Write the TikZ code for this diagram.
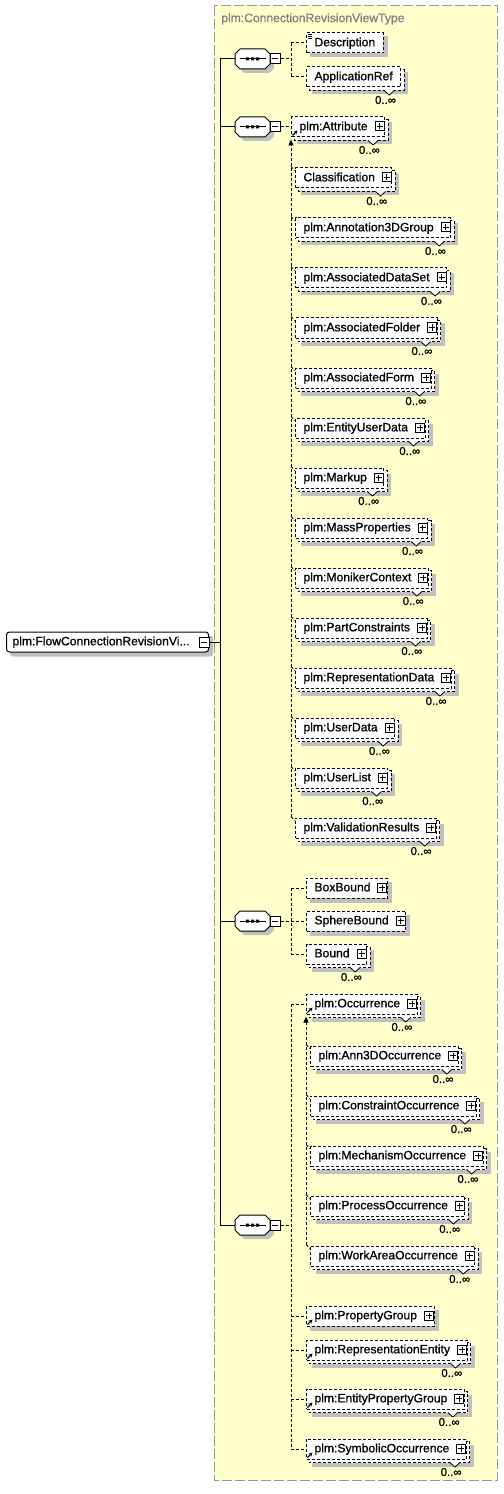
\documentclass[tikz,border=0pt]{standalone}
\usepackage{fontspec}
\setmainfont{Liberation Sans}[FakeBold=1]
\usetikzlibrary{calc,arrows.meta}
\pgfdeclarelayer{bg}
\pgfdeclarelayer{mid}
\pgfsetlayers{bg,mid,main}
\definecolor{ybg}{RGB}{255,255,204}
\definecolor{ybd}{RGB}{150,150,150}
\definecolor{shc}{RGB}{192,192,192}
\definecolor{ttl}{RGB}{128,128,128}
\tikzset{
  dsh/.style={dash pattern=on 2.25pt off 1.5pt},
  conn/.style={line width=0.75pt, dsh},
  solidln/.style={line width=0.75pt},
  lbl/.style={font=\fontsize{9.1}{11}\selectfont},
  ebox/.style={draw, line width=0.75pt, dsh, fill=white, inner sep=0pt, minimum height=15pt, text height=7pt, text depth=2pt, lbl},
  rootbox/.style={draw, line width=0.75pt, fill=white, rounded corners=2.25pt, inner sep=0pt, minimum height=15pt, text height=7pt, text depth=2pt, lbl},
  mult/.style={inner sep=0pt, font=\fontsize{8.6}{10}\selectfont},
  sqbox/.style={draw, line width=0.75pt, fill=white, inner sep=0pt, minimum size=6.75pt},
  seqbox/.style={inner sep=0pt, minimum width=26.25pt, minimum height=15pt},
  subarrow/.style={conn, -{Triangle[length=4.5pt,width=3.75pt]}},
  refarrow/.style={line width=1pt, -{Stealth[length=3pt,width=3pt]}}
}
% #1 name, #2 left x, #3 centre y, #4 text, #5 multi, #6 ref, #7 plus
\newcommand{\elbox}[7]{%
  \ifnum#7=1 \def\rpad{12.75pt}\else\def\rpad{6pt}\fi
  \node[ebox, anchor=west] (#1) at (#2,#3) {\hspace*{6pt}#4\hspace*{\rpad}};
  \begin{pgfonlayer}{bg}
  \ifnum#5=1
    \fill[shc] ($(#1.north west)+(6,6)$) rectangle ($(#1.south east)+(7,7)$);
  \else
    \fill[shc] ($(#1.north west)+(4,4)$) rectangle ($(#1.south east)+(4,4)$);
  \fi
  \end{pgfonlayer}
  \ifnum#5=1
    \begin{pgfonlayer}{mid}
    \draw[line width=0.75pt, dsh, fill=white] ($(#1.north west)+(3,3)$) rectangle ($(#1.south east)+(3,3)$);
    \coordinate (#1n) at ($(#1.south east)+(-12,3)$);
    \fill[white] ($(#1n)+(-5,-0.6)$) -- ($(#1n)+(0,4.5)$) -- ($(#1n)+(5,-0.6)$) -- cycle;
    \draw[line width=0.6pt] ($(#1n)+(-5,0)$) -- ($(#1n)+(0,4.5)$) -- ($(#1n)+(5,0)$);
    \end{pgfonlayer}
    \node[mult, anchor=east] (#1lab) at ($(#1.east)+(-5,23)$) {0..∞};
  \fi
  \ifnum#7=1
    \node[sqbox] (#1p) at ($(#1.east)+(-5.5,-0.5)$) {};
    \draw[solidln] ($(#1p.center)+(-3,0)$) -- ($(#1p.center)+(3,0)$)
                   ($(#1p.center)+(0,-3)$) -- ($(#1p.center)+(0,3)$);
  \fi
  \ifnum#6=1
    \draw[refarrow] ($(#1.west)+(1.5,8.5)$) -- ($(#1.west)+(6.5,3.5)$);
  \fi
}
% sequence compositor: #1 name, #2 centre y
\newcommand{\seqnode}[2]{%
  \node[seqbox] (#1) at (252.5,#2) {};
  \begin{pgfonlayer}{bg}
  \fill[shc, shift={(256.5,#2+4)}] (-17.5,-5) -- (-12.5,-10) -- (12.5,-10) -- (17.5,-5) -- (17.5,5) -- (12.5,10) -- (-12.5,10) -- (-17.5,5) -- cycle;
  \end{pgfonlayer}
  \draw[solidln, fill=white, shift={(252.5,#2)}] (-17.5,-5) -- (-12.5,-10) -- (12.5,-10) -- (17.5,-5) -- (17.5,5) -- (12.5,10) -- (-12.5,10) -- (-17.5,5) -- cycle;
  \draw[solidln, shift={(252.5,#2)}] (-13,0) -- (13,0);
  \fill[shift={(252.5,#2)}] (-6.5,-1.5) rectangle (-3.5,1.5) (-1.5,-1.5) rectangle (1.5,1.5) (3.5,-1.5) rectangle (6.5,1.5);
  \node[sqbox, minimum size=7.5pt] (#1m) at (275,#2) {};
  \draw[solidln] ($(#1m.center)+(-3,0)$) -- ($(#1m.center)+(3,0)$);
}
\begin{document}
\begin{tikzpicture}[x=0.75pt,y=-0.75pt]
\useasboundingbox (0,0) rectangle (503,1494);
\begin{pgfonlayer}{bg}
\fill[ybg] (214,6) rectangle (497,1480);
\draw[ybd, line width=0.75pt, dash pattern=on 7.5pt off 2.25pt] (214,6) rectangle (497,1480);
\end{pgfonlayer}
\node[anchor=west, text=ttl, lbl, inner sep=0pt] (title) at (221,19) {plm:ConnectionRevisionViewType};

% root element
\node[rootbox, anchor=west] (root) at (6,642) {\hspace*{4.5pt}plm:FlowConnectionRevisionVi...\hspace*{14.25pt}};
\begin{pgfonlayer}{bg}
\fill[shc, rounded corners=2.25pt] ($(root.north west)+(4,4)$) rectangle ($(root.south east)+(4,4)$);
\end{pgfonlayer}
\node[sqbox, minimum size=7.5pt] (rootm) at ($(root.east)+(-5,0)$) {};
\draw[solidln] ($(rootm.center)+(-3,0)$) -- ($(rootm.center)+(3,0)$);
\coordinate (sp) at (220,642);

% sequences
\seqnode{s1}{59}
\seqnode{s2}{127}
\seqnode{s3}{921}
\seqnode{s4}{1225}
\draw[solidln] (rootm.east) -- (sp);
\draw[solidln] (s1.west -| sp) -- (s4.west -| sp);
\foreach \s in {s1,s2,s3,s4} \draw[solidln] (\s.west -| sp) -- (\s.west);

% sequence 1
\elbox{desc}{306}{43}{Description}{0}{0}{0}
\foreach \k in {1.5,3.5,5.5}
  \draw[line width=0.6pt] ($(desc.north west)+(1.5,\k)$) -- ($(desc.north west)+(5.5,\k)$);
\elbox{appref}{306}{77}{ApplicationRef}{1}{0}{0}
\coordinate (b1) at (291,59);
\draw[conn] (s1m.east) -- (b1);
\draw[conn] (desc.west -| b1) -- (appref.west -| b1);
\draw[conn] (desc.west -| b1) -- (desc.west);
\draw[conn] (appref.west -| b1) -- (appref.west);

% sequence 2
\elbox{attr}{291}{127}{plm:Attribute}{1}{1}{1}
\draw[conn] (s2m.east) -- (attr.west);
\elbox{cls}{295}{178}{Classification}{1}{0}{1}
\elbox{ann}{295}{228}{plm:Annotation3DGroup}{1}{0}{1}
\elbox{ads}{295}{278}{plm:AssociatedDataSet}{1}{0}{1}
\elbox{afo}{295}{328}{plm:AssociatedFolder}{1}{0}{1}
\elbox{afm}{295}{378}{plm:AssociatedForm}{1}{0}{1}
\elbox{eud}{295}{428}{plm:EntityUserData}{1}{0}{1}
\elbox{mku}{295}{478}{plm:Markup}{1}{0}{1}
\elbox{mps}{295}{528}{plm:MassProperties}{1}{0}{1}
\elbox{mon}{295}{578}{plm:MonikerContext}{1}{0}{1}
\elbox{pcn}{295}{628}{plm:PartConstraints}{1}{0}{1}
\elbox{rpd}{295}{678}{plm:RepresentationData}{1}{0}{1}
\elbox{usd}{295}{728}{plm:UserData}{1}{0}{1}
\elbox{usl}{295}{778}{plm:UserList}{1}{0}{1}
\elbox{vrs}{295}{828}{plm:ValidationResults}{1}{0}{1}
\draw[subarrow] ($(vrs.north west -| attr.west)+(0,-1)$) -- ($(attr.south west)+(0,2)$);
\foreach \m in {cls,ann,ads,afo,afm,eud,mku,mps,mon,pcn,rpd,usd,usl,vrs}
  \draw[conn] ($(\m.north west -| attr.west)+(0,-1)$) -- ($(\m.north west)+(0,3)$);

% sequence 3
\elbox{bxb}{306}{888}{BoxBound}{0}{0}{1}
\elbox{sph}{306}{921}{SphereBound}{0}{0}{1}
\elbox{bnd}{306}{954}{Bound}{1}{0}{1}
\coordinate (b3) at (291,921);
\draw[conn] (s3m.east) -- (b3);
\draw[conn] (bxb.west -| b3) -- (bnd.west -| b3);
\foreach \m in {bxb,sph,bnd} \draw[conn] (\m.west -| b3) -- (\m.west);

% sequence 4
\elbox{occ}{306}{1004}{plm:Occurrence}{1}{1}{1}
\elbox{a3d}{310}{1056}{plm:Ann3DOccurrence}{1}{0}{1}
\elbox{cso}{310}{1106}{plm:ConstraintOccurrence}{1}{0}{1}
\elbox{mco}{310}{1156}{plm:MechanismOccurrence}{1}{0}{1}
\elbox{pro}{310}{1206}{plm:ProcessOccurrence}{1}{0}{1}
\elbox{wao}{310}{1256}{plm:WorkAreaOccurrence}{1}{0}{1}
\elbox{prg}{306}{1316}{plm:PropertyGroup}{0}{1}{1}
\elbox{ren}{306}{1350}{plm:RepresentationEntity}{1}{1}{1}
\elbox{epg}{306}{1399}{plm:EntityPropertyGroup}{1}{1}{1}
\elbox{syo}{306}{1449}{plm:SymbolicOccurrence}{1}{1}{1}
\coordinate (b4) at (291,1225);
\draw[conn] (s4m.east) -- (b4);
\draw[conn] (occ.west -| b4) -- (syo.west -| b4);
\foreach \m in {occ,prg,ren,epg,syo} \draw[conn] (\m.west -| b4) -- (\m.west);
\draw[subarrow] ($(wao.north west -| occ.west)+(0,-1)$) -- ($(occ.south west)+(0,2)$);
\foreach \m in {a3d,cso,mco,pro,wao}
  \draw[conn] ($(\m.north west -| occ.west)+(0,-1)$) -- ($(\m.north west)+(0,3)$);
\end{tikzpicture}
\end{document}
